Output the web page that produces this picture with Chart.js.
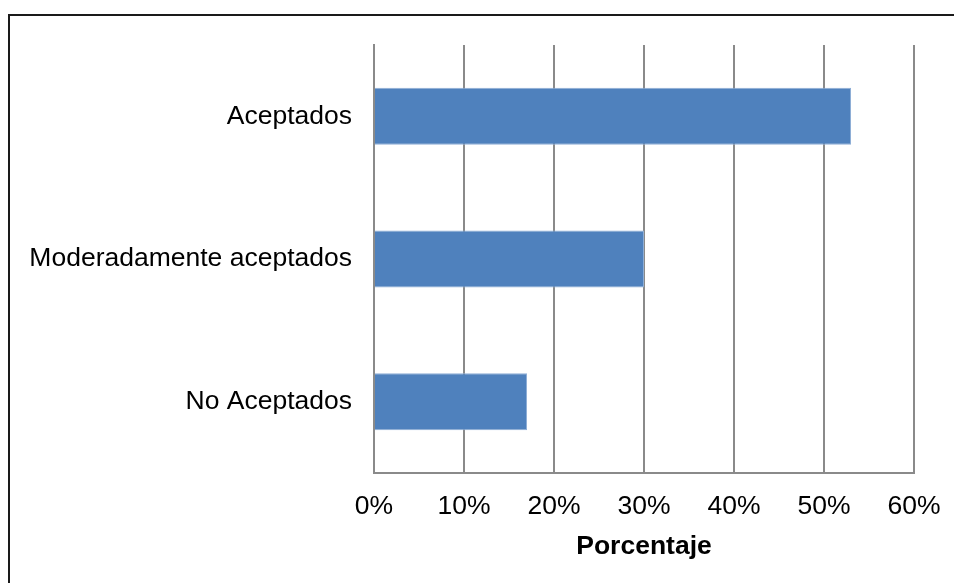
<!DOCTYPE html>
<html>
<head>
<meta charset="utf-8">
<script src="https://cdn.jsdelivr.net/npm/chart.js@4"></script>
<style>
  html, body { margin: 0; padding: 0; background: #fff; }
  #wrap { position: relative; width: 954px; height: 583px; overflow: hidden; }
  #frame {
    position: absolute; left: 8px; top: 14px; width: 1000px; height: 700px;
    border-left: 2px solid #1a1a1a; border-top: 2px solid #1a1a1a;
  }
  canvas { position: absolute; left: 0; top: 0; }
</style>
</head>
<body>
<div id="wrap">
  <div id="frame"></div>
  <canvas id="chart" width="954" height="583"></canvas>
</div>
<script>
/* ================= DATA ================= */
const categories = ['Aceptados', 'Moderadamente aceptados', 'No Aceptados'];
const percentValues = [53, 30, 17];
const xTicks = [0, 10, 20, 30, 40, 50, 60];

/* ================= STYLE ================= */
const FONT = "'Liberation Sans', Arial, sans-serif";
const GRID_COLOR = '#8a8a8a';
const BAR_COLOR = '#4F81BD';

new Chart(document.getElementById('chart'), {
    type: 'bar',
    data: {
        labels: categories,
        datasets: [{
            data: percentValues,
            backgroundColor: BAR_COLOR,
            borderColor: '#8eaed6',
            borderWidth: 1,
            borderSkipped: 'left',
            barPercentage: 0.4,
            categoryPercentage: 1
        }]
    },
    options: {
        indexAxis: 'y',
        responsive: false,
        animation: false,
        layout: { padding: { left: 0, right: 0, top: 45, bottom: 0 } },
        plugins: { legend: { display: false }, tooltip: { enabled: false } },
        scales: {
            x: {
                min: xTicks[0],
                max: xTicks[xTicks.length - 1],
                afterBuildTicks: axis => { axis.ticks = xTicks.map(v => ({ value: v })); },
                afterFit: axis => {
                    axis.height = 110;
                    // keep the plot's right edge fixed, whatever the last label needs
                    axis.paddingLeft = 0;
                    axis.paddingRight = 40;
                },
                grid: { color: GRID_COLOR, lineWidth: 2, drawTicks: false },
                border: { color: GRID_COLOR, width: 2 },
                ticks: {
                    padding: 18,
                    color: '#000',
                    font: { family: FONT, size: 26.5 },
                    callback: v => v + '%'
                },
                title: {
                    display: true,
                    text: 'Porcentaje',
                    color: '#000',
                    padding: { top: 20, bottom: 20 },
                    font: { family: FONT, size: 26.5, weight: 'bold' }
                }
            },
            y: {
                afterFit: axis => { axis.width = 374; },
                grid: { display: false, drawTicks: false },
                border: { color: GRID_COLOR, width: 2 },
                ticks: {
                    padding: 22,
                    color: '#000',
                    font: { family: FONT, size: 26.5 }
                }
            }
        }
    }
});
</script>
</body>
</html>
